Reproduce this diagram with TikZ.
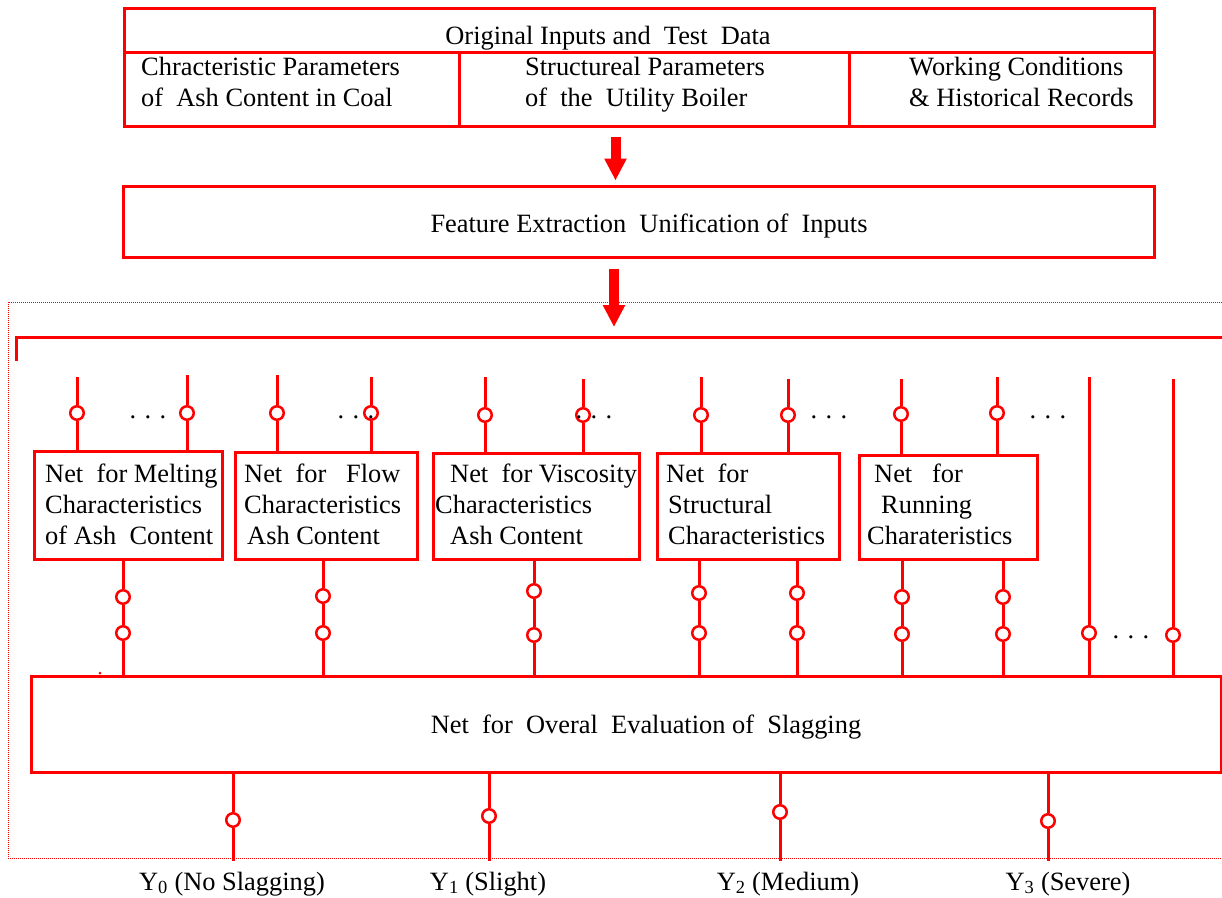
\documentclass[tikz,border=0pt]{standalone}
\usepackage{fontspec}
\setmainfont{Liberation Serif}
\usetikzlibrary{arrows.meta}
\definecolor{netred}{RGB}{255,0,0}
\newcommand{\netdots}{.\hspace{8.4pt}.\hspace{8.4pt}.}

\begin{document}
\begin{tikzpicture}[x=1pt,y=-1pt,
  wire/.style={draw=netred, line width=3pt},
  cell/.style={draw=netred, line width=3pt, rectangle, inner sep=0pt},
  jn/.style={circle, draw=netred, fill=white, line width=2.5pt, minimum size=13.5pt, inner sep=0pt},
  txt/.style={inner sep=0pt, font=\fontsize{26.4}{31}\selectfont, align=left},
  dotsep/.style={inner sep=0pt, font=\fontsize{26.4}{31}\selectfont, anchor=base},
  bigarrow/.style={draw=netred, line width=10pt, -{Triangle[width=21pt,length=22pt]}},
  frame/.style={draw=netred, line width=1pt, dash pattern=on 1pt off 1pt}
]
\useasboundingbox (0,0) rectangle (1222,897);

% ---- input table ----
\node[cell, minimum width=1030pt, minimum height=44pt] (title) at (639,30) {};
\node[cell, minimum width=335pt, minimum height=74pt] (cellA) at (291.5,89) {};
\node[cell, minimum width=390pt, minimum height=74pt] (cellB) at (654,89) {};
\node[cell, minimum width=305pt, minimum height=74pt] (cellC) at (1001.5,89) {};
\node[txt, anchor=base] (titletext) at (608,44) {Original Inputs and\ \ Test\ \ Data};
\node[txt, anchor=west] (cellAtext) at (141,82) {Chracteristic Parameters\\of\ \ Ash Content in Coal};
\node[txt, anchor=west] (cellBtext) at (525,84.8) {Structureal Parameters\\of\ \ the\ \ Utility Boiler};
\node[txt, anchor=west] (cellCtext) at (909,82) {Working Conditions\\\&\ Historical Records};

% ---- feature extraction ----
\node[cell, minimum width=1031pt, minimum height=71pt] (feat) at (638.5,221.5) {};
\node[txt, anchor=base] (feattext) at (649,232) {Feature Extraction\ \ Unification of\ \ Inputs};

\coordinate (atip) at (614,327);
\draw[bigarrow, shorten <=9pt, shorten >=4pt] ([xshift=-38.5pt]cellB.south) -- ([xshift=-23pt]feat.north);
\draw[bigarrow, shorten <=10pt] ([xshift=-24.5pt]feat.south) -- (atip);

% ---- dotted frame and input bus ----
\draw[frame] (1224,302) -- (8,302) -- (8,858) -- (1224,858);
\coordinate (busL) at (16,361);
\coordinate (busC) at (16,337);
\coordinate (busR) at (1224,337);
\draw[wire] (busL) -- (busC) -- (busR);

% ---- sub-networks ----
\node[cell, minimum width=188pt, minimum height=108pt] (n1) at (128,505) {};
\node[cell, minimum width=182pt, minimum height=107pt] (n2) at (326,505.5) {};
\node[cell, minimum width=206pt, minimum height=106pt] (n3) at (536,506) {};
\node[cell, minimum width=182pt, minimum height=106pt] (n4) at (748,506) {};
\node[cell, minimum width=178pt, minimum height=104pt] (n5) at (948,507) {};

\node[txt, anchor=west] (n1text) at (45,504.5) {Net\ \ for Melting\\Characteristics\\of Ash\ \ Content};
\node[txt, anchor=west] (n2text) at (244,504.5) {Net\ \ for\ \ \ Flow\\Characteristics\\\hspace{3pt}Ash Content};
\node[txt, anchor=west] (n3text) at (435,504.5) {\hspace{15pt}Net\ \ for Viscosity\\Characteristics\\\hspace{15pt}Ash Content};
\node[txt, anchor=west] (n4text) at (666,504.5) {Net\ \ for\\\hspace{2pt}Structural\\\hspace{2pt}Characteristics};
\node[txt, anchor=west] (n5text) at (867,504.5) {\hspace{7pt}Net\ \ \ for\\\hspace{14pt}Running\\Charateristics};

% ---- overall evaluation ----
\node[cell, minimum width=1190pt, minimum height=96pt] (eval) at (626,724) {};
\node[txt, anchor=base] (evaltext) at (646,733) {Net\ \ for\ \ Overal\ \ Evaluation of\ \ Slagging};
\fill[netred] (100,673) circle (1.5pt);

% ---- inputs of the sub-networks ----
\foreach \nm/\bx/\x/\top/\cy in {1a/n1/77/377/413, 1b/n1/187/375/413,
                                  2a/n2/277/375/413, 2b/n2/371/377/413,
                                  3a/n3/485/377/415, 3b/n3/583/379/415,
                                  4a/n4/701/377/415, 4b/n4/788/379/415,
                                  5a/n5/901/379/414, 5b/n5/997/377/413}{
  \coordinate (in\nm) at (\x,\top);
  \node[jn] (j\nm) at (\x,\cy) {};
  \draw[wire] (in\nm) -- (j\nm) -- (j\nm |- \bx.north);
}
\node[dotsep] (d1) at (148,418.5) {\netdots};
\node[dotsep] (d2) at (356,418.5) {\netdots};
\node[dotsep] (d3) at (594,418.5) {\netdots};
\node[dotsep] (d4) at (829,418.5) {\netdots};
\node[dotsep] (d5) at (1048,418.5) {\netdots};

% ---- outputs of the sub-networks ----
\foreach \nm/\bx/\x/\ya/\yb in {1/n1/123/597/633, 2/n2/323/596/633,
                                3/n3/534/591/635, 4a/n4/699/593/633,
                                4b/n4/797/593/633, 5a/n5/902/597/634,
                                5b/n5/1003/597/634}{
  \node[jn] (oa\nm) at (\x,\ya) {};
  \node[jn] (ob\nm) at (\x,\yb) {};
  \draw[wire] (oa\nm |- \bx.south) -- (oa\nm) -- (ob\nm) -- (ob\nm |- eval.north);
}

% ---- direct inputs ----
\foreach \nm/\x/\top/\cy in {6a/1089/377/633, 6b/1173/379/635}{
  \coordinate (in\nm) at (\x,\top);
  \node[jn] (j\nm) at (\x,\cy) {};
  \draw[wire] (in\nm) -- (j\nm) -- (j\nm |- eval.north);
}
\node[dotsep] (d6) at (1131,638.5) {\netdots};

% ---- outputs ----
\foreach \nm/\x/\cy in {0/233/820, 1/489/816, 2/780/812, 3/1048/821}{
  \node[jn] (yc\nm) at (\x,\cy) {};
  \coordinate (ye\nm) at (\x,861);
  \draw[wire] (yc\nm |- eval.south) -- (yc\nm) -- (ye\nm);
}
\node[txt, anchor=base] (y0) at (232,890) {Y\textsubscript{0} (No Slagging)};
\node[txt, anchor=base] (y1) at (488,890) {Y\textsubscript{1} (Slight)};
\node[txt, anchor=base] (y2) at (788,890) {Y\textsubscript{2} (Medium)};
\node[txt, anchor=base] (y3) at (1068,890) {Y\textsubscript{3} (Severe)};
\end{tikzpicture}
\end{document}
